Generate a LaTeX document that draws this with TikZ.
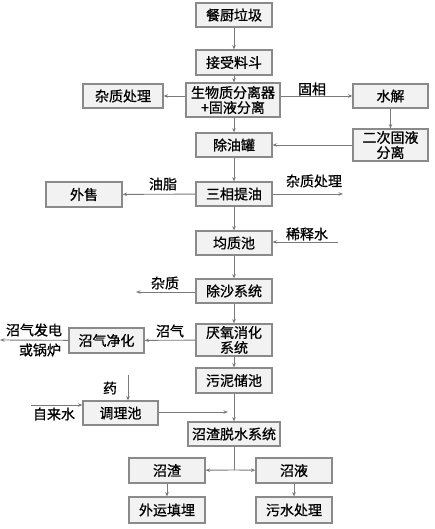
\documentclass[tikz,border=0pt]{standalone}
\usepackage{fontspec}
\setmainfont{Noto Sans CJK SC}[FakeBold=0.8]
\usetikzlibrary{arrows.meta}
\definecolor{boxfill}{HTML}{F2F2F2}
\definecolor{boxline}{HTML}{8A8A8A}
\definecolor{arrline}{HTML}{7A7A7A}
\begin{document}
\begin{tikzpicture}[x=1pt,y=-1pt,
  box/.style={draw=boxline,fill=boxfill,line width=1.1pt,rectangle,inner sep=0pt,
    minimum width=76pt,minimum height=24pt,align=center,
    font=\fontsize{14}{15}\selectfont},
  lbl/.style={inner sep=0pt,font=\fontsize{14}{15}\selectfont},
  arr/.style={draw=arrline,line width=0.9pt,-{Stealth[length=4.5pt,width=3.5pt]}},
  ln/.style={draw=arrline,line width=0.9pt}]
\useasboundingbox (0,0) rectangle (435,529);
\node[box] (A) at (234,15) {餐厨垃圾};
\node[box,minimum height=25pt] (B) at (234,62.5) {接受料斗};
\node[box,minimum width=94pt,minimum height=34pt] (C) at (233,100) {生物质分离器\\+固液分离};
\node[box,minimum width=80pt] (D) at (123,96) {杂质处理};
\node[box,minimum width=75pt] (E) at (390.5,96) {水解};
\node[box] (F) at (234,145) {除油罐};
\node[box,minimum width=75pt,minimum height=32pt] (G) at (390.5,145) {二次固液\\分离};
\node[box] (H) at (234,194) {三相提油};
\node[box,minimum height=25pt] (I) at (84,194.5) {外售};
\node[box] (J) at (234,243) {均质池};
\node[box] (K) at (234,291) {除沙系统};
\node[box,minimum height=32pt] (L) at (234,340) {厌氧消化\\系统};
\node[box,minimum width=75pt,minimum height=25pt] (M) at (106.5,340.5) {沼气净化};
\node[box,minimum height=25pt] (N) at (234,380.5) {污泥储池};
\node[box,minimum width=75pt] (O) at (120.5,413) {调理池};
\node[box,minimum width=92pt] (P) at (234,434) {沼渣脱水系统};
\node[box,minimum height=25pt] (Q) at (167,470.5) {沼渣};
\node[box,minimum height=25pt] (R) at (294,470.5) {沼液};
\node[box,minimum height=26pt] (S) at (167,510) {外运填埋};
\node[box,minimum height=26pt] (T) at (294,510) {污水处理};
% labels
\node[lbl] (l1) at (312,89) {固相};
\node[lbl] (l2) at (163,184) {油脂};
\node[lbl] (l3) at (314,181) {杂质处理};
\node[lbl] (l4) at (307,234) {稀释水};
\node[lbl] (l5) at (165,283) {杂质};
\node[lbl] (l6) at (170,331) {沼气};
\node[lbl] (l7) at (34,330) {沼气发电};
\node[lbl] (l8) at (40,350) {或锅炉};
\node[lbl] (l9) at (110,388) {药};
\node[lbl] (l10) at (54,414) {自来水};
% free ends
\coordinate (h1) at (343,194);
\coordinate (j1) at (338,242);
\coordinate (k1) at (136,292);
\coordinate (m1) at (0,340);
\coordinate (o1) at (128,375);
\coordinate (o2) at (31,405);
\coordinate (o3) at (228,412);
\coordinate (p1) at (234,470);
% vertical main flow
\draw[arr] (A) -- (B);
\draw[arr] (B.south) -- (B.south |- C.north);
\draw[arr] (B.south |- C.south) -- (F.north);
\draw[arr] (F) -- (H);
\draw[arr] (H) -- (J);
\draw[arr] (J) -- (K);
\draw[arr] (K) -- (L);
\draw[arr] (L) -- (N);
\draw[arr] (N) -- (P);
% side flows
\draw[arr] (C.west |- D.east) -- (D.east);
\draw[arr] (C.east |- E.west) -- (E.west);
\draw[arr] (E) -- (G);
\draw[arr] (G) -- (F);
\draw[arr] (H) -- (I);
\draw[arr] (H) -- (h1);
\draw[arr] (j1) -- (j1 -| J.east);
\draw[arr] (K.west |- k1) -- (k1);
\draw[arr] (L) -- (M);
\draw[arr] (M) -- (m1);
\draw[arr] (o1) -- (o1 |- O.north);
\draw[arr] (o2) -- (o2 -| O.west);
\draw[arr] (O.east |- o3) -- (o3);
\draw[ln] (P) -- (p1);
\draw[arr] (p1) -- (Q);
\draw[arr] (p1) -- (R);
\draw[arr] (Q) -- (S);
\draw[arr] (R) -- (T);
\end{tikzpicture}
\end{document}
